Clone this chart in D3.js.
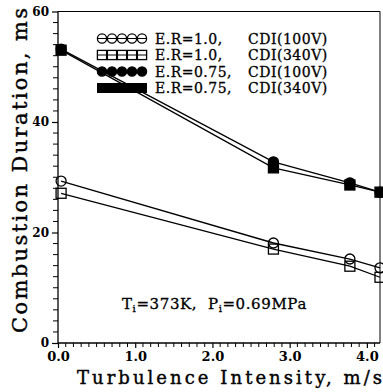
<!DOCTYPE html>
<html>
<head>
<meta charset="utf-8">
<script src="https://cdn.jsdelivr.net/npm/d3@7"></script>
<style>
  html, body { margin: 0; padding: 0; background: #fff; }
  svg { display: block; }
</style>
</head>
<body>
<svg id="chart" width="383" height="392"></svg>
<script>
// ---- data ----
const turbulence = [0.04, 2.79, 3.78, 4.17];
const erOneCdi100 = [29.3, 18.1, 15.2, 13.6];
const erOneCdi340 = [27.1, 17.0, 13.9, 11.9];
const erPt75Cdi100 = [53.2, 32.8, 29.0, 27.3];
const erPt75Cdi340 = [53.0, 31.7, 28.6, 27.3];
const xTickValues = [0, 1, 2, 3, 4];
const xTickLabels = ["0.0", "1.0", "2.0", "3.0", "4.0"];
const yTickValues = [0, 20, 40, 60];
const legendLabels = [
  ["E.R=1.0,", "CDI(100V)"],
  ["E.R=1.0,", "CDI(340V)"],
  ["E.R=0.75,", "CDI(100V)"],
  ["E.R=0.75,", "CDI(340V)"]
];

const svg = d3.select("#chart");
const L = 58, R = 380, T = 11.5, B = 343;
const x = d3.scaleLinear().domain([0, 4.17]).range([L, R]);
const y = d3.scaleLinear().domain([0, 60]).range([B, T]);

const serif = "'DejaVu Serif', serif";

// frame (top & right)
svg.append("path")
  .attr("d", `M${L},${T}H${R}V${B}`)
  .attr("fill", "none").attr("stroke", "#000").attr("stroke-width", 1);

// y axis
const yAxis = d3.axisLeft(y).tickValues(yTickValues).tickSize(6).tickPadding(3)
  .tickFormat(d3.format("d"));
const gy = svg.append("g").attr("transform", `translate(${L},0)`).call(yAxis);
gy.select(".domain").attr("d", `M0,${B}V${T}`).attr("stroke-width", 1.3);
gy.selectAll(".tick text").attr("font-family", serif).attr("font-weight", "bold")
  .attr("font-size", 12).attr("fill", "#000");
gy.selectAll(".tick line").attr("stroke-width", 1.2);
svg.append("g").selectAll("line")
  .data(d3.range(0, 61, 2).filter(v => v % 20 !== 0))
  .join("line")
  .attr("x1", L - 5).attr("x2", L)
  .attr("y1", d => y(d)).attr("y2", d => y(d))
  .attr("stroke", "#000").attr("stroke-width", 1);

// x axis
const xAxis = d3.axisBottom(x).tickValues(xTickValues).tickSize(5).tickPadding(4)
  .tickFormat((d, i) => xTickLabels[i]);
const gx = svg.append("g").attr("transform", `translate(0,${B})`).call(xAxis);
gx.select(".domain").attr("d", `M${L},0H${R}`).attr("stroke-width", 1.3);
gx.selectAll(".tick text").attr("font-family", serif).attr("font-weight", "bold")
  .attr("font-size", 13).attr("fill", "#000");
gx.selectAll(".tick line").attr("stroke-width", 1.2);
svg.append("g").selectAll("line")
  .data(d3.range(1, 42).map(v => v / 10).filter(v => Math.abs(v - Math.round(v)) > 1e-6))
  .join("line")
  .attr("x1", d => x(d)).attr("x2", d => x(d))
  .attr("y1", B).attr("y2", B + 4)
  .attr("stroke", "#000").attr("stroke-width", 1);

// axis titles
svg.append("text")
  .attr("x", 77).attr("y", 384)
  .attr("font-family", serif).attr("font-size", 18)
  .attr("stroke", "#000").attr("stroke-width", 0.4)
  .attr("textLength", 305).attr("lengthAdjust", "spacing")
  .text("Turbulence Intensity, m/s");
svg.append("text")
  .attr("transform", "translate(27,333) rotate(-90)")
  .attr("font-family", serif).attr("font-size", 21)
  .attr("stroke", "#000").attr("stroke-width", 0.4)
  .attr("textLength", 325).attr("lengthAdjust", "spacing")
  .text("Combustion Duration, ms");

// series lines
const line = d3.line().x((d, i) => x(turbulence[i])).y(d => y(d));
const allSeries = [erOneCdi100, erOneCdi340, erPt75Cdi100, erPt75Cdi340];
const types = ["openCircle", "openSquare", "filledCircle", "filledSquare"];
allSeries.forEach(s => {
  svg.append("path").attr("d", line(s)).attr("fill", "none")
    .attr("stroke", "#000").attr("stroke-width", 1.3);
});

function drawMarker(g, type, cx, cy, r) {
  if (type.endsWith("Circle")) {
    g.append("circle").attr("cx", cx).attr("cy", cy).attr("r", r)
      .attr("fill", type === "filledCircle" ? "#000" : "none")
      .attr("stroke", "#000").attr("stroke-width", 1.3);
  } else {
    g.append("rect").attr("x", cx - r).attr("y", cy - r).attr("width", 2 * r).attr("height", 2 * r)
      .attr("fill", type === "filledSquare" ? "#000" : "none")
      .attr("stroke", "#000").attr("stroke-width", 1.3);
  }
}
const mg = svg.append("g");
[1, 0, 3, 2].forEach(k => {
  allSeries[k].forEach((v, i) => drawMarker(mg, types[k], x(turbulence[i]), y(v), 5));
});

// legend
const lg = svg.append("g");
const rowY = [38.5, 55, 71.5, 88];
legendLabels.forEach((lab, k) => {
  const ry = rowY[k];
  if (types[k] === "filledSquare") {
    lg.append("rect").attr("x", 97).attr("y", ry - 5).attr("width", 50).attr("height", 10).attr("fill", "#000");
  } else {
    lg.append("line").attr("x1", 97).attr("x2", 147).attr("y1", ry).attr("y2", ry)
      .attr("stroke", "#000").attr("stroke-width", 1.2);
    for (let j = 0; j < 5; j++) drawMarker(lg, types[k], 102 + j * 10, ry, 4.6);
  }
  [[155, lab[0]], [248, lab[1]]].forEach(([tx, t]) => {
    lg.append("text").attr("x", tx).attr("y", ry + 5)
      .attr("font-family", serif).attr("font-size", 14).attr("letter-spacing", 0.5)
      .attr("stroke", "#000").attr("stroke-width", 0.3).text(t);
  });
});

// annotation
const ann = svg.append("text").attr("x", 122).attr("y", 309)
  .attr("font-family", serif).attr("font-size", 15).attr("letter-spacing", 0.6)
  .attr("stroke", "#000").attr("stroke-width", 0.3);
ann.append("tspan").text("T");
ann.append("tspan").attr("font-size", 10).attr("dy", 3).text("i");
ann.append("tspan").attr("dy", -3).text("=373K,\u00a0\u00a0P");
ann.append("tspan").attr("font-size", 10).attr("dy", 3).text("i");
ann.append("tspan").attr("dy", -3).text("=0.69MPa");
</script>
</body>
</html>
